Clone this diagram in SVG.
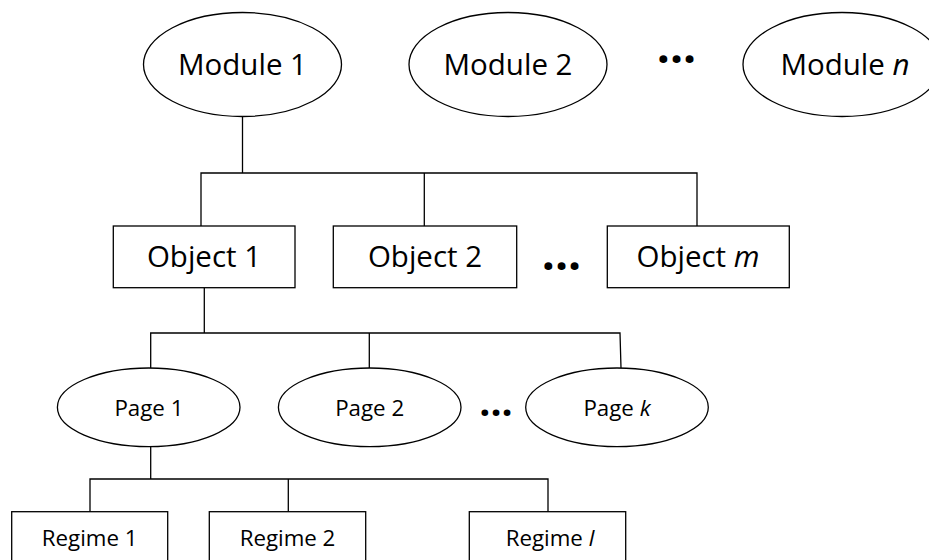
<svg xmlns="http://www.w3.org/2000/svg" width="929" height="560" viewBox="0 0 929 560">
<style>
.shape{fill:#fff;stroke:#000;stroke-width:1.3}
.conn{fill:none;stroke:#000;stroke-width:1.3}
text{font-family:"Open Sans","Noto Sans",sans-serif;fill:#000;text-anchor:middle}
.big{font-size:29.5px}
.small{font-size:22.3px}
.dots{font-weight:bold}
.it{font-style:italic}
</style>
<rect width="929" height="560" fill="#fff"/>
<g id="connectors">
<path class="conn" d="M242.5 117V173"/>
<path class="conn" d="M201 226V173H697V226"/>
<path class="conn" d="M424.3 173V226"/>
<path class="conn" d="M204.3 288V333"/>
<path class="conn" d="M150.7 368V333H620L621 368"/>
<path class="conn" d="M369.3 333V368"/>
<path class="conn" d="M150.7 447V479"/>
<path class="conn" d="M90 512V479H548V512"/>
<path class="conn" d="M288.3 479V512"/>
</g>
<g id="module1"><ellipse class="shape" cx="242.5" cy="64.5" rx="99" ry="52"/><text class="big" x="242.5" y="75">Module 1</text></g>
<g id="module2"><ellipse class="shape" cx="508" cy="64.5" rx="99" ry="52"/><text class="big" x="508" y="75">Module 2</text></g>
<g id="dots1"><text class="dots" x="676.5" y="62.5" font-size="46">...</text></g>
<g id="modulen"><ellipse class="shape" cx="842" cy="64.5" rx="99" ry="52"/><text class="big" x="845" y="75">Module <tspan class="it">n</tspan></text></g>
<g id="object1"><rect class="shape" x="113.3" y="226" width="181.7" height="61.7"/><text class="big" x="204" y="266.7">Object 1</text></g>
<g id="object2"><rect class="shape" x="333.3" y="226" width="183.4" height="61.7"/><text class="big" x="425" y="266.7">Object 2</text></g>
<g id="dots2"><text class="dots" x="561.5" y="269.5" font-size="46">...</text></g>
<g id="objectm"><rect class="shape" x="607.3" y="226" width="182" height="61.7"/><text class="big" x="698" y="266.7">Object <tspan class="it">m</tspan></text></g>
<g id="page1"><ellipse class="shape" cx="148.7" cy="407.3" rx="91.3" ry="39.3"/><text class="small" x="148.9" y="416">Page 1</text></g>
<g id="page2"><ellipse class="shape" cx="369.7" cy="407.3" rx="91.3" ry="39.3"/><text class="small" x="369.7" y="416">Page 2</text></g>
<g id="dots3"><text class="dots" x="496" y="416" font-size="39">...</text></g>
<g id="pagek"><ellipse class="shape" cx="617" cy="407.3" rx="91.3" ry="39.3"/><text class="small" x="617" y="416">Page <tspan class="it">k</tspan></text></g>
<g id="regime1"><rect class="shape" x="11.7" y="511.7" width="156" height="60"/><text class="small" x="89.7" y="545.7">Regime 1</text></g>
<g id="regime2"><rect class="shape" x="209.3" y="511.7" width="156.4" height="60"/><text class="small" x="287.5" y="545.7">Regime 2</text></g>
<g id="regimel"><rect class="shape" x="469.3" y="511.7" width="156.4" height="60"/><text class="small" x="550" y="545.7">Regime <tspan class="it">l</tspan></text></g>
</svg>
